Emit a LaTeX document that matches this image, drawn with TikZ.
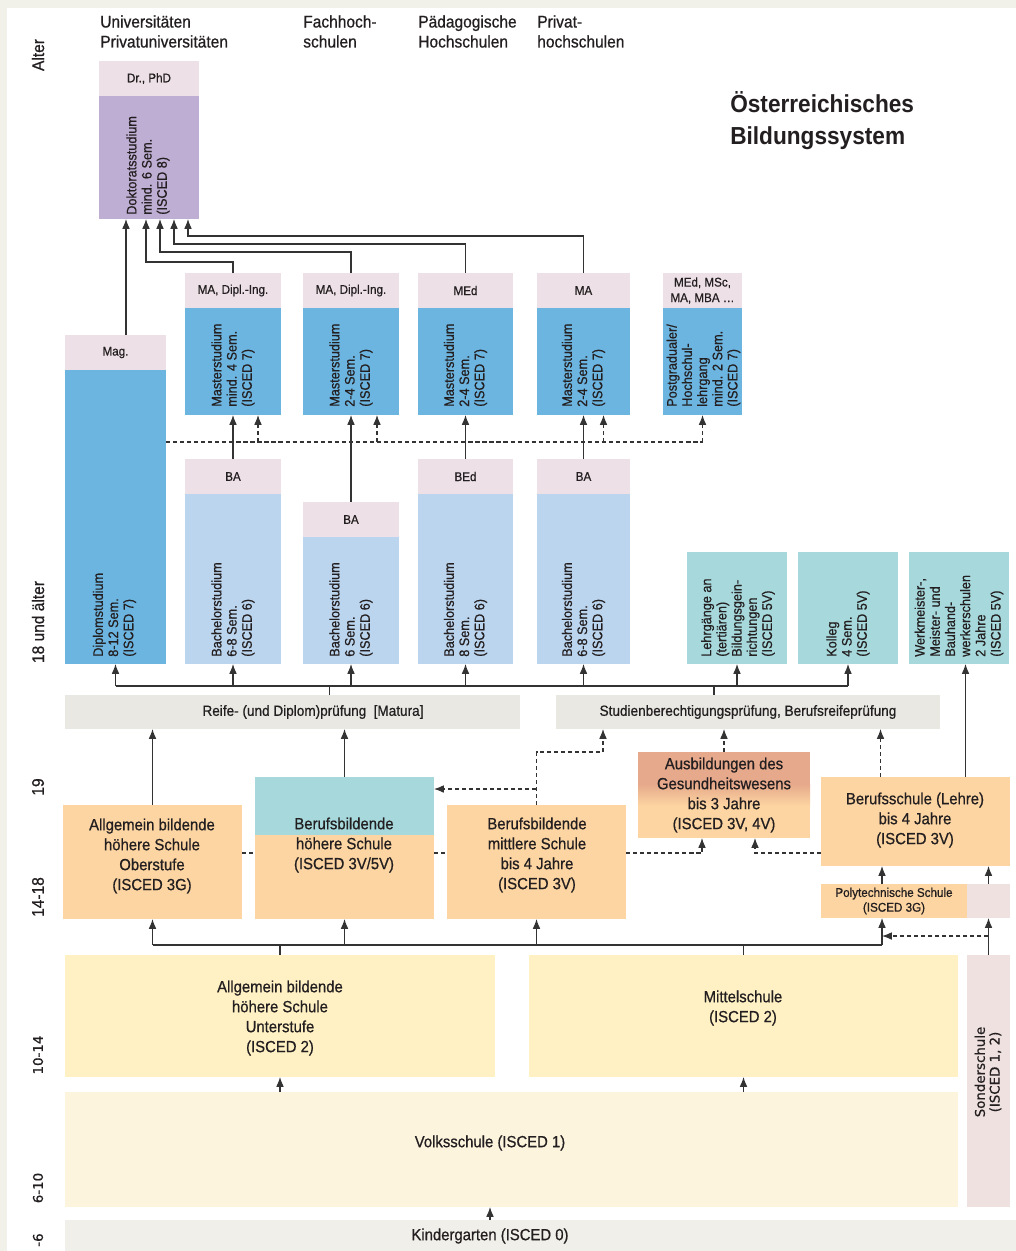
\documentclass[tikz,border=0pt]{standalone}
\usepackage{fontspec}
\setmainfont{Liberation Sans}[FakeStretch=0.92, UprightFeatures={FakeBold=0.7}]
\newfontfamily\widefont{DejaVu Sans}[UprightFeatures={FakeBold=0.8}]
\usetikzlibrary{
    arrows.meta,
    calc
}

\definecolor{frame}{HTML}{F1F1EA}
\definecolor{pinkh}{HTML}{EDE0E6}
\definecolor{purp}{HTML}{BFAED3}
\definecolor{midblue}{HTML}{6DB5E1}
\definecolor{lightblue}{HTML}{BCD5EF}
\definecolor{tealb}{HTML}{A6D8DC}
\definecolor{grayb}{HTML}{E9E8E3}
\definecolor{orng}{HTML}{FDD5A2}
\definecolor{salmon}{HTML}{E6A98B}
\definecolor{yell}{HTML}{FFF1C4}
\definecolor{lyell}{HTML}{FDF4DE}
\definecolor{sonder}{HTML}{EFE1E0}
\definecolor{kgray}{HTML}{F1EFE9}
\definecolor{ink}{HTML}{231F20}

\tikzset{
    box/.style={inner sep=0pt, outer sep=0pt, anchor=north west, draw=none},
    big/.style={font=\fontsize{11.5}{14.2}\selectfont, align=center, inner sep=0pt, text=ink},
    lab/.style={font=\fontsize{9}{11}\selectfont, align=center, inner sep=0pt, text=ink},
    vt/.style={rotate=90, anchor=west, align=left, inner sep=0pt, text=ink,
        font=\fontsize{9.8}{10.8}\selectfont},
    age/.style={rotate=90, inner sep=0pt, text=ink, font=\fontsize{12}{14}\selectfont},
    colhd/.style={anchor=north west, align=left, inner sep=0pt, text=ink,
        font=\fontsize{12}{14.2}\selectfont},
    ln/.style={draw=black!80, line width=0.8pt},
    arr/.style={ln, -{Latex[length=7pt,width=5.5pt]}},
    dsh/.style={ln, dash pattern=on 3pt off 2pt},
    darr/.style={arr, dash pattern=on 3pt off 2pt}
}

% box from pixel corners
\newcommand\blk[6]{\node[box, fill=#6, minimum width={(#4-#2)*0.025cm},
    minimum height={(#5-#3)*0.025cm}] (#1) at (#2,#3) {};}

\begin{document}
\begin{tikzpicture}[x=0.025cm, y=-0.025cm]
\useasboundingbox (0,0) rectangle (1016,1251);
\fill[frame] (0,0) rectangle (1016,1251);
\fill[white] (7,8) rectangle (1016,1251);

% column heads and title
\node[colhd] (huni) at (100,15) {Universitäten\\Privatuniversitäten};
\node[colhd] (hfh) at (303,15) {Fachhoch-\\schulen};
\node[colhd] (hph) at (418,15) {Pädagogische\\Hochschulen};
\node[colhd] (hpr) at (537,15) {Privat-\\hochschulen};
\node[anchor=north west, align=left, inner sep=0pt, text=ink,
    font=\bfseries\fontsize{17.5}{22.8}\selectfont] (title) at (730,91)
    {Österreichisches\\Bildungssystem};

% age axis
\node[age] (a0) at (38,55) {Alter};
\node[age] (a1) at (38,622) {18 und älter};
\node[age] (a2) at (38,787) {19};
\node[age] (a3) at (38,897) {14-18};
\node[age, font=\widefont\fontsize{9.5}{11}\selectfont] (a4) at (38,1055) {10-14};
\node[age, font=\widefont\fontsize{9.5}{11}\selectfont] (a5) at (38,1188) {6-10};
\node[age, font=\widefont\fontsize{9.5}{11}\selectfont] (a6) at (38,1240) {-6};

% tertiary
\blk{dokh}{99}{61}{199}{96}{pinkh}
\blk{dok}{99}{96}{199}{219}{purp}
\blk{magh}{65}{335}{166}{370}{pinkh}
\blk{dipl}{65}{370}{166}{664}{midblue}
\blk{ma1h}{185}{273}{281}{308}{pinkh}
\blk{ma1}{185}{308}{281}{415}{midblue}
\blk{ma2h}{303}{273}{399}{308}{pinkh}
\blk{ma2}{303}{308}{399}{415}{midblue}
\blk{medh}{418}{273}{513}{308}{pinkh}
\blk{med}{418}{308}{513}{415}{midblue}
\blk{ma4h}{537}{273}{630}{308}{pinkh}
\blk{ma4}{537}{308}{630}{415}{midblue}
\blk{pgh}{663}{273}{742}{308}{pinkh}
\blk{pg}{663}{308}{742}{415}{midblue}
\blk{ba1h}{185}{459}{281}{494}{pinkh}
\blk{ba1}{185}{494}{281}{664}{lightblue}
\blk{ba2h}{303}{502}{399}{537}{pinkh}
\blk{ba2}{303}{537}{399}{664}{lightblue}
\blk{bedh}{418}{459}{513}{494}{pinkh}
\blk{bed}{418}{494}{513}{664}{lightblue}
\blk{ba4h}{537}{459}{630}{494}{pinkh}
\blk{ba4}{537}{494}{630}{664}{lightblue}
\blk{lg}{687}{552}{787}{664}{tealb}
\blk{kol}{798}{552}{898}{664}{tealb}
\blk{wm}{909}{552}{1009}{664}{tealb}

% exams
\blk{reife}{65}{695}{520}{729}{grayb}
\blk{sbp}{556}{695}{940}{729}{grayb}

% 14-18
\blk{ahso}{63}{805}{242}{919}{orng}
\blk{bhs}{255}{777}{434}{919}{orng}
\fill[tealb] (bhs.north west) rectangle ($(bhs.north east)+(0,58)$);
\blk{bms}{447}{805}{626}{919}{orng}
\blk{ges}{638}{752}{810}{838}{orng}
\fill[salmon] (ges.north west) rectangle ($(ges.north east)+(0,32)$);
\shade[top color=salmon, bottom color=orng] ($(ges.north west)+(0,32)$) rectangle ($(ges.north east)+(0,54)$);
\blk{bs}{821}{777}{1010}{866}{orng}
\blk{poly}{821}{884}{967}{918}{orng}
\blk{polyp}{967}{884}{1010}{918}{sonder}

% 6-14
\blk{ahsu}{65}{955}{495}{1077}{yell}
\blk{ms}{529}{955}{958}{1077}{yell}
\blk{sos}{967}{955}{1010}{1207}{sonder}
\blk{vs}{65}{1092}{958}{1207}{lyell}
\blk{kg}{65}{1220}{1016}{1251}{kgray}

% labels
\node[lab] (dokht) at (dokh) {Dr., PhD};
\node[lab] (maght) at (magh) {Mag.};
\foreach \n/\t in {ma1h/{MA, Dipl.-Ing.}, ma2h/{MA, Dipl.-Ing.}, medh/MEd, ma4h/MA,
    ba1h/BA, ba2h/BA, bedh/BEd, ba4h/BA}
    \node[lab] (\n-t) at (\n) {\t};
\node[lab] (pght) at (pgh) {MEd, MSc,\\MA, MBA …};

\node[vt] (dokt) at (148,215) {Doktoratsstudium\\mind. 6 Sem.\\(ISCED 8)};
\node[vt] (diplt) at ($(dipl.south)+(-1,-7)$) {Diplomstudium\\8-12 Sem.\\(ISCED 7)};
\foreach \n/\t in {ma1/{mind. 4 Sem.}, ma2/{2-4 Sem.}, med/{2-4 Sem.}, ma4/{2-4 Sem.}}
    \node[vt] (\n-t) at ($(\n.south)+(0,-8)$) {Masterstudium\\\t\\(ISCED 7)};
\node[vt] (pg-t) at ($(pg.south)+(1,-8)$) {Postgradualer/\\Hochschul-\\lehrgang\\mind. 2 Sem.\\(ISCED 7)};
\foreach \n/\t in {ba1/{6-8 Sem.}, ba2/{6 Sem.}, bed/{8 Sem.}, ba4/{6-8 Sem.}}
    \node[vt] (\n-t) at ($(\n.south)+(0,-7)$) {Bachelorstudium\\\t\\(ISCED 6)};
\node[vt] (lg-t) at ($(lg.south)+(1,-7)$) {Lehrgänge an\\(tertiären)\\Bildungsgein-\\richtungen\\(ISCED 5V)};
\node[vt] (kol-t) at ($(kol.south)+(0,-7)$) {Kolleg\\4 Sem.\\(ISCED 5V)};
\node[vt] (wm-t) at ($(wm.south)+(0,-7)$) {Werkmeister-,\\Meister- und\\Bauhand-\\werkerschulen\\2 Jahre\\(ISCED 5V)};

\node[lab, font=\fontsize{10.5}{12}\selectfont] (reifet) at (313,712) {Reife- (und Diplom)prüfung\enspace[Matura]};
\node[lab, font=\fontsize{10.5}{12}\selectfont] (sbpt) at (sbp) {Studienberechtigungsprüfung, Berufsreifeprüfung};

\node[big] (ahsot) at (152,856) {Allgemein bildende\\höhere Schule\\Oberstufe\\(ISCED 3G)};
\node[big] (bhst) at (344,845) {Berufsbildende\\höhere Schule\\(ISCED 3V/5V)};
\node[big] (bmst) at (537,855) {Berufsbildende\\mittlere Schule\\bis 4 Jahre\\(ISCED 3V)};
\node[big] (gest) at (724,795) {Ausbildungen des\\Gesundheitswesens\\bis 3 Jahre\\(ISCED 3V, 4V)};
\node[big] (bst) at (915,820) {Berufsschule (Lehre)\\bis 4 Jahre\\(ISCED 3V)};
\node[lab, font=\fontsize{9}{10.5}\selectfont] (polyt) at (894,901) {Polytechnische Schule\\(ISCED 3G)};
\node[big] (ahsut) at (280,1018) {Allgemein bildende\\höhere Schule\\Unterstufe\\(ISCED 2)};
\node[big] (mst) at (743,1008) {Mittelschule\\(ISCED 2)};
\node[big] (vst) at (490,1143) {Volksschule (ISCED 1)};
\node[big] (kgt) at (490,1236) {Kindergarten (ISCED 0)};
\node[age, align=center, font=\widefont\fontsize{9.5}{10.5}\selectfont] (sost) at (988,1072) {Sonderschule\\(ISCED 1, 2)};

% to the doctorate
\coordinate (d1) at (126,219);
\coordinate (d2) at (146,219);
\coordinate (d3) at (160,219);
\coordinate (d4) at (174,219);
\coordinate (d5) at (188,219);
\draw[arr] (magh.north -| d1) -- (d1);
\draw[arr] (ma1h.north) -- ++(0,-11) -| (d2);
\draw[arr] (ma2h.north) -- ++(0,-21) -| (d3);
\draw[arr] (medh.north) -- ++(0,-29) -| (d4);
\draw[arr] (ma4h.north) -- ++(0,-37) -| (d5);

% bachelor to master
\foreach \a/\b in {ba1h/ma1, ba2h/ma2, bedh/med, ba4h/ma4}
    \draw[arr] (\a.north) -- (\b.south);

% dashed cross links
\coordinate (dq) at (0,442);
\draw[dsh] (dipl.east |- dq) -- (pg.south |- dq);
\foreach \b/\dx in {ma1/25, ma2/26, ma4/20}
    \draw[darr] ($(\b.south |- dq)+(\dx,0)$) -- ($(\b.south)+(\dx,0)$);
\draw[darr] (pg.south |- dq) -- (pg.south);

% upper bus
\coordinate (ub) at (0,686);
\draw[ln] (dipl.south |- ub) -- (kol.south |- ub);
\foreach \n in {dipl,ba1,ba2,bed,ba4,lg,kol}
    \draw[arr] (\n.south |- ub) -- (\n.south);
\draw[ln] ($(reife.north)+(37,0)$) -- ($(reife.north |- ub)+(37,0)$);
\draw[ln] ($(sbp.north)+(-34,0)$) -- ($(sbp.north |- ub)+(-34,0)$);
\path ($(bs.north)+(50,0)$) coordinate (wq);
\draw[arr] (wq) -- (wq |- wm.south);

% 14-18 to the exams
\draw[arr] (ahso.north) -- (ahso.north |- reife.south);
\draw[arr] (bhs.north) -- (bhs.north |- reife.south);
\draw[darr] (bms.north) -- ++(0,-53) -| ($(sbp.south)+(-145,0)$);
\path (bms.north) ++(0,-16) coordinate (bj);
\draw[darr] (bj) -- (bj -| bhs.east);
\draw[darr] (ges.north) -- (ges.north |- sbp.south);
\path ($(bs.north)+(-35,0)$) coordinate (bq);
\draw[darr] (bq) -- (bq |- sbp.south);

% dashed row
\coordinate (hl) at (0,853);
\draw[dsh] (ahso.east |- hl) -- (bhs.west |- hl);
\draw[dsh] (bhs.east |- hl) -- (bms.west |- hl);
\draw[darr] (bms.east |- hl) -| ($(ges.south)+(-22,0)$);
\draw[darr] (bs.west |- hl) -| ($(ges.south)+(31,0)$);

% polytechnic
\path ($(poly.north)+(-12,0)$) coordinate (pq);
\draw[arr] (pq) -- (pq |- bs.south);
\draw[arr] (polyp.north) -- (polyp.north |- bs.south);

% lower bus
\coordinate (lb) at (0,945);
\coordinate (sb) at (0,936);
\draw[ln] (ahso.south |- lb) -- (pq |- lb);
\foreach \n in {ahso,bhs,bms}
    \draw[arr] (\n.south |- lb) -- (\n.south);
\draw[arr] (pq |- lb) -- (pq |- poly.south);
\draw[ln] (ahsu.north) -- (ahsu.north |- lb);
\draw[ln] (ms.north) -- (ms.north |- lb);
\draw[darr] (sos.north |- sb) -- (pq |- sb);
\draw[arr] (sos.north) -- (polyp.south);

% primary
\draw[arr] (vs.north -| ahsu.south) -- (ahsu.south);
\draw[arr] (vs.north -| ms.south) -- (ms.south);
\draw[arr] (kg.north -| vst) -- (vst |- vs.south);
\end{tikzpicture}
\end{document}
